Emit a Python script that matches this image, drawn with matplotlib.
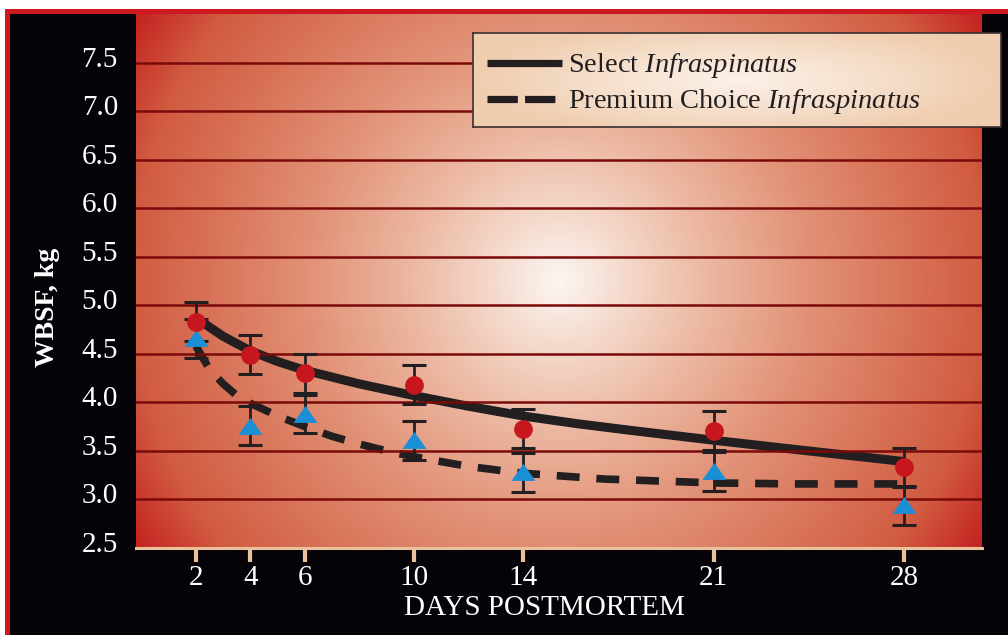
import numpy as np
import matplotlib.pyplot as plt
from matplotlib.colors import LinearSegmentedColormap
from matplotlib.patches import Rectangle
from matplotlib.lines import Line2D
from matplotlib.transforms import ScaledTranslation

plt.rcParams['font.family'] = 'Liberation Serif'
plt.rcParams['mathtext.fontset'] = 'custom'
plt.rcParams['mathtext.rm'] = 'Liberation Serif'
plt.rcParams['mathtext.it'] = 'Liberation Serif:italic'

# Measured means (WBSF, kg) and standard errors by day postmortem
days = [2, 4, 6, 10, 14, 21, 28]
select_means = [4.83, 4.49, 4.30, 4.18, 3.73, 3.71, 3.33]
select_se = [0.20, 0.20, 0.20, 0.20, 0.20, 0.20, 0.20]
premium_means = [4.66, 3.76, 3.88, 3.61, 3.28, 3.29, 2.94]
premium_se = [0.20, 0.20, 0.20, 0.20, 0.20, 0.20, 0.20]

# Fitted trend curves
select_fit_days = [2, 3, 4, 5, 6, 8, 10, 12, 14, 16, 18, 21, 24, 28]
select_fit = [4.87, 4.68, 4.53, 4.42, 4.33, 4.19, 4.07, 3.96, 3.86, 3.78, 3.71,
              3.61, 3.515, 3.39]
premium_fit_days = [2, 2.5, 3, 3.5, 4, 5, 6, 7, 8, 9, 10, 12, 14, 17, 21, 24, 28]
premium_fit = [4.58, 4.34, 4.19, 4.07, 3.99, 3.86, 3.75, 3.65, 3.57, 3.50, 3.44,
               3.34, 3.27, 3.21, 3.17, 3.16, 3.16]

y_ticks = [2.5, 3.0, 3.5, 4.0, 4.5, 5.0, 5.5, 6.0, 6.5, 7.0, 7.5]
legend_labels = [r'Select $\mathit{Infraspinatus}$',
                 r'Premium Choice $\mathit{Infraspinatus}$']

W, H = 1008, 635
fig = plt.figure(figsize=(W / 100, H / 100), dpi=100, facecolor='#050308')

# thin red frame along the top and left edges
fig.patches.append(Rectangle((0, 1 - 9 / H), 1, 9 / H, transform=fig.transFigure,
                             facecolor='white', edgecolor='none'))
fig.patches.append(Rectangle((0, 1 - 14 / H), 1, 5 / H, transform=fig.transFigure,
                             facecolor='#cc1a20', edgecolor='none'))
fig.patches.append(Rectangle((0, 0), 5 / W, 1, transform=fig.transFigure,
                             facecolor='white', edgecolor='none'))
fig.patches.append(Rectangle((5 / W, 0), 5 / W, 1 - 9 / H, transform=fig.transFigure,
                             facecolor='#cc1a20', edgecolor='none'))

ax = fig.add_axes([136 / W, 1 - 548 / H, 846 / W, 534 / H])
xmin, xmax, ymin, ymax = -0.2, 30.85, 2.5, 8.0
ax.set_xlim(xmin, xmax)
ax.set_ylim(ymin, ymax)

# radial glow behind the plot
gx, gy = np.meshgrid(np.linspace(-423, 423, 423), np.linspace(-267, 267, 267))
r = np.hypot(gx, gy) / 500
glow = LinearSegmentedColormap.from_list('glow', [
    (0.0, '#fcf6f2'), (0.12, '#f5dccf'), (0.3, '#ecb7a1'), (0.5, '#e29277'),
    (0.7, '#d87358'), (0.86, '#d15b41'), (1.0, '#c42320')])
ax.imshow(np.clip(r, 0, 1), cmap=glow, vmin=0, vmax=1, aspect='auto',
          extent=[xmin, xmax, ymin, ymax], zorder=0, interpolation='bilinear')

ax.set_yticks(y_ticks)
ax.set_yticklabels([f'{v:.1f}' for v in y_ticks])
ax.set_xticks(days)
ax.set_xticklabels([str(d) for d in days])
ax.grid(axis='y', color='#7a0a0a', linewidth=1.8, zorder=1)
ax.set_axisbelow(False)

for side in ['left', 'right', 'top']:
    ax.spines[side].set_visible(False)
ax.spines['bottom'].set_color('#e9c19d')
ax.spines['bottom'].set_linewidth(2.2)
ax.spines['bottom'].set_zorder(6)

ax.tick_params(axis='x', direction='out', length=10, width=3, color='#e9c19d',
               labelcolor='white', labelsize=21, pad=2)
ax.tick_params(axis='y', length=0, labelcolor='white', labelsize=21, pad=13)
for lab in ax.get_yticklabels():
    lab.set_transform(lab.get_transform() + ScaledTranslation(0, 6 / 100, fig.dpi_scale_trans))

# trend curves
ax.plot(select_fit_days, select_fit, color='#231f20', linewidth=6.5,
        solid_capstyle='butt', solid_joinstyle='round', zorder=2)
ax.plot(premium_fit_days, premium_fit, color='#231f20', linewidth=5.5,
        linestyle=(0, (3.0, 2.2)), dash_capstyle='butt', zorder=2)

# error bars and markers
ax.errorbar(days, premium_means, yerr=premium_se, fmt='none', ecolor='#231f20',
            elinewidth=2, capsize=8.6, capthick=2.2, zorder=3)
ax.errorbar(days, select_means, yerr=select_se, fmt='none', ecolor='#231f20',
            elinewidth=2, capsize=8.6, capthick=2.2, zorder=3)
tri = [(-1, -0.7), (1, -0.7), (0, 0.72)]
ax.plot(days, premium_means, linestyle='none', marker=tri, markersize=17.3,
        color='#1a8fd6', markeredgewidth=0, zorder=4)
ax.plot(days, select_means, linestyle='none', marker='o', markersize=13.5,
        color='#c8161e', markeredgewidth=0, zorder=5)

fig.text(48 / W, 1 - 307 / H, 'WBSF, kg', rotation=90, ha='center', va='center',
         color='white', fontsize=20, fontweight='bold')
fig.text(544 / W, 1 - 608 / H, 'DAYS POSTMORTEM', ha='center', va='center',
         color='white', fontsize=21)

# legend box
lax = fig.add_axes([473 / W, 1 - 127 / H, 528 / W, 94 / H])
lax.set_xlim(0, 528)
lax.set_ylim(94, 0)
lx, ly = np.meshgrid(np.linspace(-264, 264, 264), np.linspace(-47, 47, 47))
lr = np.hypot(lx / 264, ly / 60)
paper = LinearSegmentedColormap.from_list('paper', ['#fcf1e9', '#f6e0cd', '#efcdaf'])
lax.imshow(np.clip(lr, 0, 1), cmap=paper, vmin=0, vmax=1, aspect='auto',
           extent=[0, 528, 94, 0], zorder=0)
lax.set_xticks([])
lax.set_yticks([])
for s in lax.spines.values():
    s.set_color('#3a3030')
    s.set_linewidth(1.2)
lax.add_line(Line2D([14, 89], [30, 30], color='#231f20', linewidth=5.2,
                    solid_capstyle='butt'))
lax.add_line(Line2D([14, 89], [66, 66], color='#231f20', linewidth=5.2,
                    linestyle=(0, (4.2, 1.0)), dash_capstyle='butt'))
lax.text(95, 32, legend_labels[0], va='center', ha='left', fontsize=20.5, color='#231f20')
lax.text(95, 68.5, legend_labels[1], va='center', ha='left', fontsize=20.5, color='#231f20')

fig.savefig('out.png', dpi=100, facecolor=fig.get_facecolor())
